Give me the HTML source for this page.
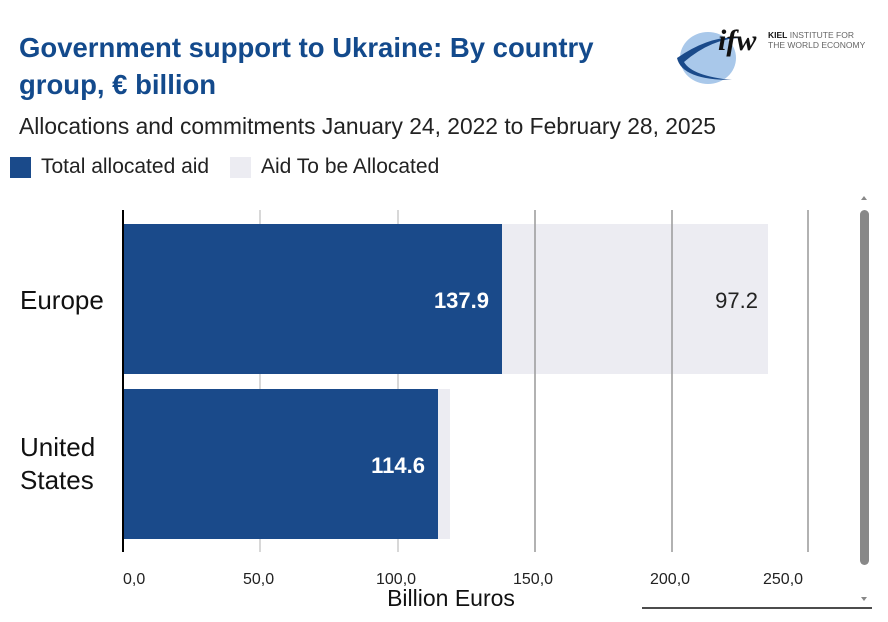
<!DOCTYPE html>
<html><head><meta charset="utf-8"><style>
body{margin:0;width:888px;height:622px;background:#fff;font-family:"Liberation Sans",sans-serif;position:relative;overflow:hidden}
.a{position:absolute;white-space:nowrap}
</style></head><body>
<div class="a" style="left:19px;top:29px;font-size:27.5px;font-weight:bold;color:#134a8c;line-height:37px">Government support to Ukraine: By country<br>group, € billion</div>
<div class="a" style="left:19px;top:113px;font-size:22.8px;color:#222">Allocations and commitments January 24, 2022 to February 28, 2025</div>
<div class="a" style="left:10px;top:157px;width:21px;height:21px;background:#1a4a8a"></div>
<div class="a" style="left:41px;top:155px;font-size:21px;color:#222">Total allocated aid</div>
<div class="a" style="left:230px;top:157px;width:21px;height:21px;background:#ececf2"></div>
<div class="a" style="left:261px;top:155px;font-size:21px;color:#222">Aid To be Allocated</div>
<svg class="a" style="left:672px;top:24px" width="216" height="60">
<ellipse cx="36" cy="34" rx="28" ry="26" fill="#a9c8ea"/>
<path d="M5 34 Q40 10 70 14 Q40 14 12 38 Q20 52 60 56 Q10 56 5 34Z" fill="#1a4a8a"/>
<text x="46" y="26" font-size="30" font-weight="bold" font-style="italic" fill="#111" font-family="Liberation Serif">ifw</text>
<text x="96" y="14" font-size="8.5" fill="#666"><tspan font-weight="bold" fill="#111">KIEL</tspan> INSTITUTE FOR</text>
<text x="96" y="24" font-size="8.5" fill="#666">THE WORLD ECONOMY</text>
</svg>
<svg class="a" style="left:0;top:0" width="888" height="622">
<g stroke="#ccc" stroke-width="1.5"><line x1="260" y1="210" x2="260" y2="552"/><line x1="398" y1="210" x2="398" y2="552"/></g>
<rect x="123" y="224" width="645" height="150" fill="#ececf2"/>
<rect x="123" y="389" width="327" height="150" fill="#ececf2"/>
<rect x="123" y="224" width="379" height="150" fill="#1a4a8a"/>
<rect x="123" y="389" width="315" height="150" fill="#1a4a8a"/>
<g stroke="#999" stroke-width="1.5"><line x1="535" y1="210" x2="535" y2="552"/><line x1="672" y1="210" x2="672" y2="552"/><line x1="808" y1="210" x2="808" y2="552"/></g>
<line x1="123" y1="210" x2="123" y2="552" stroke="#000" stroke-width="2"/>
<g font-size="22" fill="#fff" text-anchor="end" font-weight="bold"><text x="489" y="308">137.9</text><text x="425" y="473">114.6</text></g>
<text x="758" y="308" font-size="22" fill="#222" text-anchor="end">97.2</text>
<g font-size="26" fill="#111"><text x="20" y="309">Europe</text><text x="20" y="456">United</text><text x="20" y="489">States</text></g>
<g font-size="16" fill="#222"><text x="123" y="584">0,0</text><text x="243" y="584">50,0</text><text x="376" y="584">100,0</text><text x="513" y="584">150,0</text><text x="650" y="584">200,0</text><text x="763" y="584">250,0</text></g>
<text x="451" y="606" font-size="23" fill="#111" text-anchor="middle">Billion Euros</text>
<rect x="860" y="210" width="9" height="355" rx="4.5" fill="#888"/>
<path d="M861 200 L867 200 L864 196Z M861 597 L867 597 L864 601Z" fill="#888"/>
<line x1="642" y1="608" x2="872" y2="608" stroke="#111" stroke-width="1.5"/>
</svg>
</body></html>
